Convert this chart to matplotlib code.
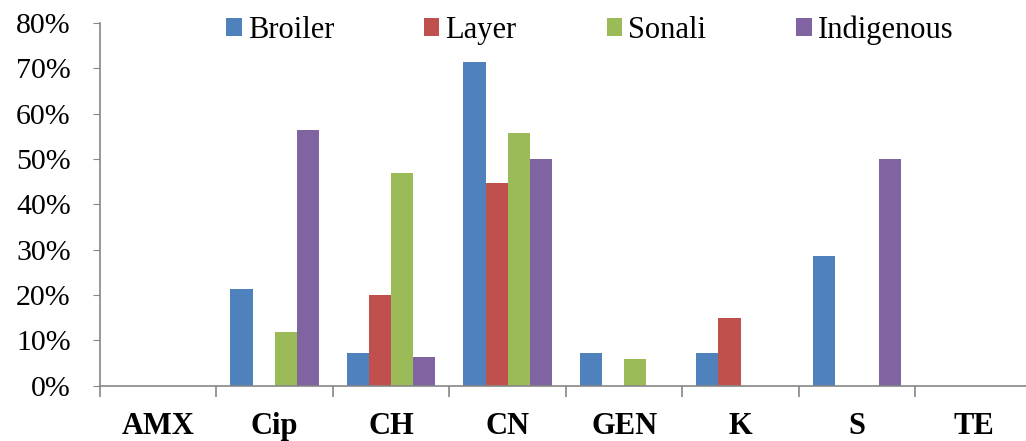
import numpy as np
import matplotlib.pyplot as plt
from matplotlib.patches import Patch
from matplotlib.ticker import FuncFormatter, FixedLocator

categories = ["AMX", "Cip", "CH", "CN", "GEN", "K", "S", "TE"]
broiler = [0, 21.4, 7.1, 71.5, 7.1, 7.1, 28.6, 0]
layer = [0, 0, 20.0, 44.8, 0, 15.0, 0, 0]
sonali = [0, 11.7, 46.8, 55.8, 5.9, 0, 0, 0]
indigenous = [0, 56.3, 6.3, 50.0, 0, 0, 50.0, 0]

series = [("Broiler", broiler, "#4F81BD"),
          ("Layer", layer, "#C0504D"),
          ("Sonali", sonali, "#9BBB59"),
          ("Indigenous", indigenous, "#8064A2")]

plt.rcParams['font.family'] = ['Liberation Serif', 'DejaVu Serif']

fig = plt.figure(figsize=(10.26, 4.41), dpi=100)
ax = fig.add_axes([100/1026, 55.5/441, 926/1026, 362.5/441])

x = np.arange(len(categories))
w = 0.19
for i, (name, vals, col) in enumerate(series):
    ax.bar(x + (i - 1.5) * w, vals, w, color=col, edgecolor='none')

ax.set_xlim(-0.5, 7.45)
ax.set_ylim(0, 80)

gray = '#868686'
for s in ['top', 'right']:
    ax.spines[s].set_visible(False)
for s in ['left', 'bottom']:
    ax.spines[s].set_color(gray)
    ax.spines[s].set_linewidth(1.2)

ax.set_yticks(np.arange(0, 81, 10))
ax.yaxis.set_major_formatter(FuncFormatter(lambda v, p: f"{int(v)}%"))
ax.tick_params(axis='y', length=5, color=gray, labelsize=21.5, pad=16)

ax.xaxis.set_major_locator(FixedLocator(np.arange(-0.5, 7.5, 1.0)))
ax.xaxis.set_minor_locator(FixedLocator(x))
ax.set_xticklabels([], minor=False)
ax.set_xticklabels(categories, minor=True, fontweight='bold', fontsize=22)
ax.tick_params(axis='x', which='major', length=8, color=gray, width=1.2)
ax.tick_params(axis='x', which='minor', length=0, pad=19)

handles = [Patch(facecolor=c, edgecolor='none', label=n) for n, _, c in series]
ax.legend(handles=handles, ncol=4, loc='center', bbox_to_anchor=(0.529, 0.98),
          frameon=False, fontsize=22, handlelength=0.5, handleheight=0.5,
          handletextpad=0.2, columnspacing=2.95, borderpad=0)

fig.savefig("out.png", dpi=100)
